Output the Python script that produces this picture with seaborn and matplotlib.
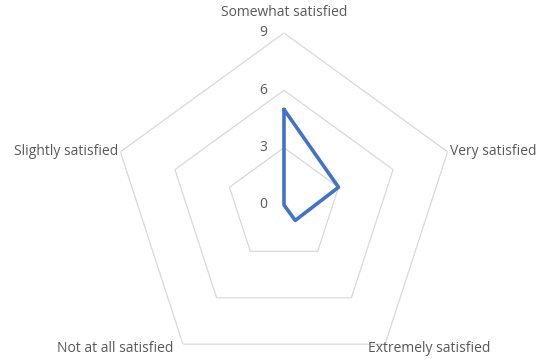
"""Radar chart of satisfaction levels, Excel style."""

import matplotlib

matplotlib.use("Agg")

import matplotlib.pyplot as plt
import numpy as np
import pandas as pd
import seaborn as sns

categories = [
    "Somewhat satisfied",
    "Very satisfied",
    "Extremely satisfied",
    "Not at all satisfied",
    "Slightly satisfied",
]
counts = [5, 3, 1, 0, 0]
ring_ticks = [0, 3, 6, 9]

sns.set_theme(style="white")
plt.rcParams["font.family"] = ["Open Sans", "DejaVu Sans"]

TEXT_COLOR = "#595959"
GRID_COLOR = "#D9D9D9"
LINE_COLOR = "#4472C4"

n = len(categories)
angles = np.arange(n) * 2 * np.pi / n
closed_angles = np.append(angles, 2 * np.pi)

fig = plt.figure(figsize=(5.5, 3.62), dpi=100)
ax = fig.add_axes([0.2036, -0.0414, 0.6255, 0.9503], projection="polar")
ax.set_theta_offset(np.pi / 2)
ax.set_theta_direction(-1)
ax.set_ylim(0, max(ring_ticks))
ax.grid(False)
ax.spines["polar"].set_visible(False)
ax.set_xticks([])
ax.set_yticks([])
ax.patch.set_alpha(0)

# pentagon gridlines
for r in ring_ticks[1:]:
    ax.plot(closed_angles, [r] * (n + 1), color=GRID_COLOR, lw=0.9, zorder=1)

# data series (closed loop)
df = pd.DataFrame({"angle": closed_angles, "value": counts + counts[:1]})
sns.lineplot(
    data=df, x="angle", y="value", sort=False, estimator=None,
    color=LINE_COLOR, lw=2.6, ax=ax, zorder=3,
)
ax.set_xlabel("")
ax.set_ylabel("")

# radial tick labels
for r in ring_ticks:
    ax.annotate(
        str(r), (0, r), xytext=(-17, 0), textcoords="offset pixels",
        ha="right", va="center", fontsize=10, color=TEXT_COLOR,
    )

# category labels
label_offsets = [
    ((0, 20), "center"),
    ((2, 0), "left"),
    ((-17, -4), "left"),
    ((-10, -4), "right"),
    ((-2, 0), "right"),
]
top = max(ring_ticks)
for angle, name, (offset, ha) in zip(angles, categories, label_offsets):
    ax.annotate(
        name, (angle, top), xytext=offset, textcoords="offset pixels",
        ha=ha, va="center", fontsize=10, color=TEXT_COLOR,
        annotation_clip=False,
    )

fig.savefig("out.png", dpi=100)
